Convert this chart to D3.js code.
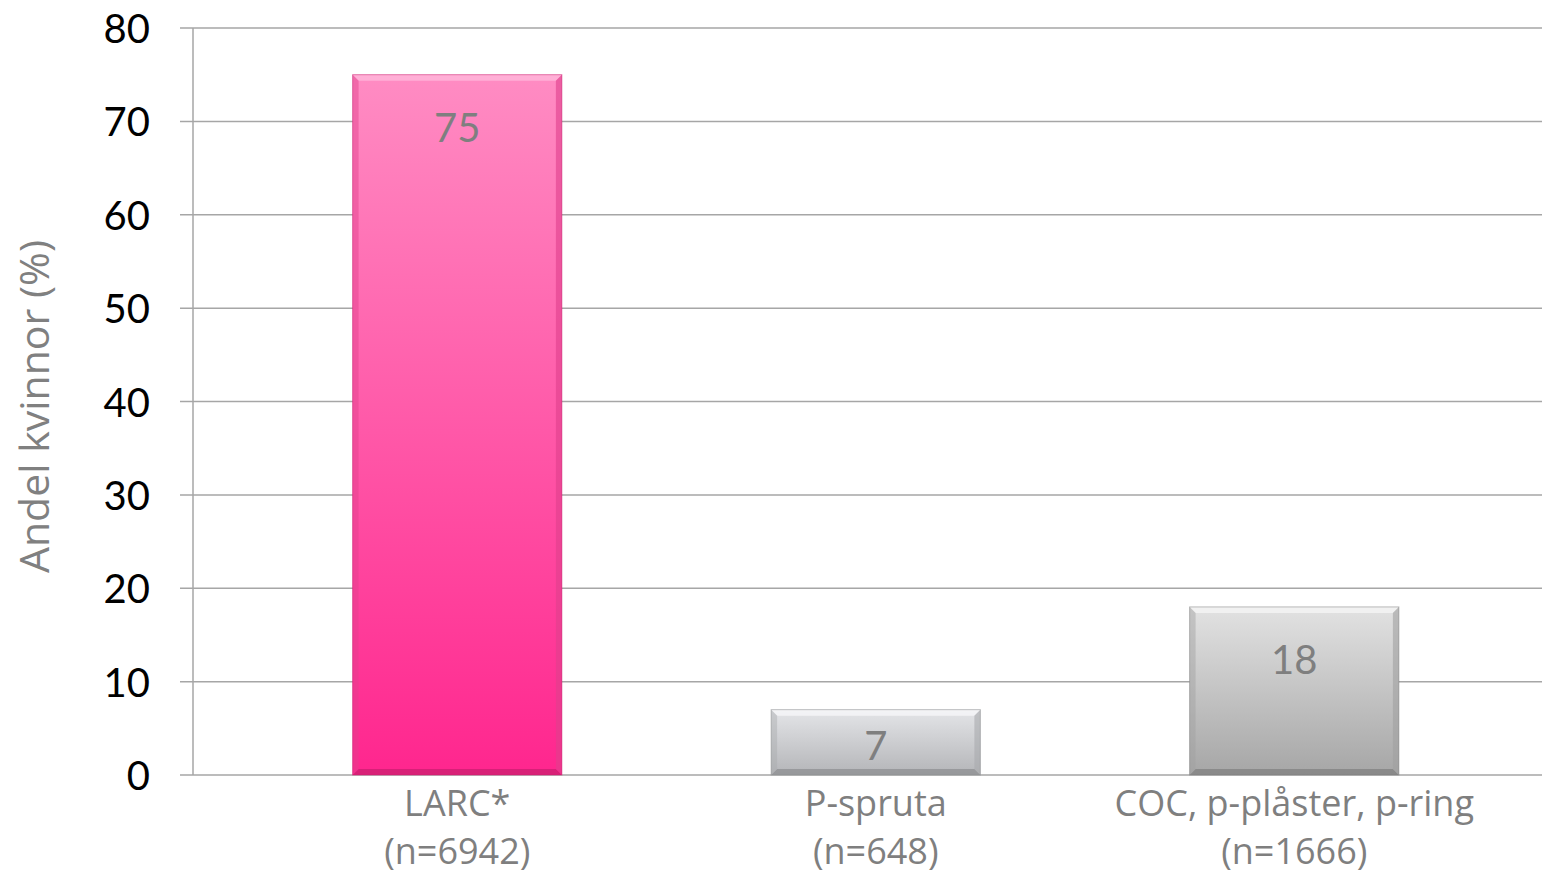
<!DOCTYPE html>
<html>
<head>
<meta charset="utf-8">
<script src="https://cdn.jsdelivr.net/npm/d3@7"></script>
<style>
  html, body { margin: 0; padding: 0; background: #fff; }
  svg { display: block; font-family: Lato, "Open Sans", sans-serif; }
</style>
</head>
<body>
<svg id="chart" width="1542" height="875"></svg>
<script>
// Contraceptive method categories (two-line labels) and shares of women (%)
const categories = ["LARC*", "P-spruta", "COC, p-plåster, p-ring"];
const categoryCounts = ["(n=6942)", "(n=648)", "(n=1666)"];
const shares = [75, 7, 18];
const yTicks = [0, 10, 20, 30, 40, 50, 60, 70, 80];
const axisTitle = "Andel kvinnor (%)";

const svg = d3.select("#chart");
const axisX = 193, plotRight = 1542, plotTop = 28, plotBottom = 775;

const x = d3.scaleBand()
  .domain(categories)
  .range([248, 1503.5])
  .paddingInner(0.5)
  .paddingOuter(0.25);
const y = d3.scaleLinear().domain([0, 80]).range([plotBottom, plotTop]);

// gradients for bar faces
const defs = svg.append("defs");
const palettes = [
  { top: "#ff8cc3", bottom: "#ff268e", hi: "#ffb3d8", lo: "#c81e6e", side: "#e0408c" },
  { top: "#e4e5e8", bottom: "#b4b5b8", hi: "#f4f4f6", lo: "#8a8b8e", side: "#a9aaad" },
  { top: "#e2e2e2", bottom: "#a6a6a6", hi: "#f3f3f3", lo: "#7e7e7e", side: "#a0a0a0" }
];
palettes.forEach((p, i) => {
  const g = defs.append("linearGradient").attr("id", "grad" + i)
    .attr("x1", 0).attr("y1", 0).attr("x2", 0).attr("y2", 1);
  g.append("stop").attr("offset", "0%").attr("stop-color", p.top);
  g.append("stop").attr("offset", "100%").attr("stop-color", p.bottom);
});

// horizontal gridlines (with tick stubs left of the axis)
const grid = svg.append("g");
grid.selectAll("line").data(yTicks).join("line")
  .attr("x1", axisX - 13).attr("x2", plotRight)
  .attr("y1", d => y(d)).attr("y2", d => y(d))
  .attr("stroke", "#a6a6a6").attr("stroke-width", 1.5);

// vertical axis line
svg.append("line")
  .attr("x1", axisX).attr("x2", axisX)
  .attr("y1", y(80)).attr("y2", y(0))
  .attr("stroke", "#a6a6a6").attr("stroke-width", 1.5);

// y tick labels
svg.append("g").selectAll("text").data(yTicks).join("text")
  .attr("x", 150).attr("y", d => y(d))
  .attr("text-anchor", "end").attr("dominant-baseline", "central")
  .attr("font-size", 40).attr("fill", "#000")
  .text(d => d);

// y axis title
svg.append("text")
  .attr("transform", `translate(49,${(plotTop + plotBottom) / 2 + 5}) rotate(-90)`)
  .attr("text-anchor", "middle")
  .attr("font-family", "'Open Sans', sans-serif")
  .attr("font-size", 41).attr("fill", "#808080")
  .text(axisTitle);

// bars with bevelled edges
const bev = 6;
const bars = svg.append("g").selectAll("g").data(shares).join("g");
bars.each(function(v, i) {
  const g = d3.select(this);
  const p = palettes[i];
  const x0 = x(categories[i]), w = x.bandwidth();
  const y0 = y(v), h = y(0) - y(v);
  g.append("rect").attr("x", x0).attr("y", y0).attr("width", w).attr("height", h)
    .attr("fill", `url(#grad${i})`);
  const x1 = x0 + w, y1 = y0 + h;
  const poly = pts => pts.map(q => q.join(",")).join(" ");
  g.append("polygon").attr("points", poly([[x0, y0], [x1, y0], [x1 - bev, y0 + bev], [x0 + bev, y0 + bev]]))
    .attr("fill", p.hi).attr("opacity", 0.9);
  g.append("polygon").attr("points", poly([[x0, y1], [x1, y1], [x1 - bev, y1 - bev], [x0 + bev, y1 - bev]]))
    .attr("fill", p.lo).attr("opacity", 0.7);
  g.append("polygon").attr("points", poly([[x0, y0], [x0 + bev, y0 + bev], [x0 + bev, y1 - bev], [x0, y1]]))
    .attr("fill", p.side).attr("opacity", 0.45);
  g.append("polygon").attr("points", poly([[x1, y0], [x1 - bev, y0 + bev], [x1 - bev, y1 - bev], [x1, y1]]))
    .attr("fill", p.side).attr("opacity", 0.6);
  g.append("rect").attr("x", x0).attr("y", y0).attr("width", w).attr("height", h)
    .attr("fill", "none").attr("stroke", p.lo).attr("stroke-opacity", 0.5).attr("stroke-width", 1);

  // value label inside top of bar
  g.append("text")
    .attr("x", x0 + w / 2)
    .attr("y", Math.min(y0 + 67, y(0) - 15))
    .attr("text-anchor", "middle")
    .attr("font-size", 40).attr("fill", "#7f7f7f")
    .text(v);
});

// category labels (two lines)
const cat = svg.append("g").selectAll("text").data(categories).join("text")
  .attr("text-anchor", "middle")
  .attr("font-family", "'Open Sans', sans-serif")
  .attr("font-size", 36).attr("fill", "#7f7f7f");
cat.append("tspan")
  .attr("x", d => x(d) + x.bandwidth() / 2).attr("y", 816)
  .text(d => d);
cat.append("tspan")
  .attr("x", d => x(d) + x.bandwidth() / 2).attr("y", 864)
  .text((d, i) => categoryCounts[i]);
</script>
</body>
</html>
